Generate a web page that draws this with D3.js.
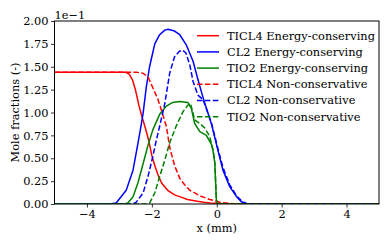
<!DOCTYPE html>
<html><head><meta charset="utf-8">
<script src="https://cdn.jsdelivr.net/npm/d3@7"></script>
<style>body{margin:0;background:#fff}svg{display:block}svg text{font-family:'DejaVu Serif';}</style>
</head><body><svg id="c" width="392" height="245" font-family="DejaVu Serif"></svg>
<script>
// data (mole fractions in units of 1e-1)
const ticl4EC = [[-5,1.44],[-3,1.44],[-2.8,1.44],[-2.7,1.42],[-2.6,1.36],[-2.5,1.24],[-2.4,1.08],[-2.3,0.95],[-2.2,0.83],[-2.1,0.70],[-2.0,0.53],[-1.9,0.41],[-1.8,0.31],[-1.7,0.23],[-1.5,0.145],[-1.3,0.10],[-1.1,0.075],[-0.9,0.05],[-0.6,0.03],[-0.4,0.02],[-0.2,0.012],[0,0.007],[0.2,0.003],[0.5,0],[5,0]];
const cl2EC = [[-5,0],[-3.3,0],[-3.1,0.01],[-2.99,0.06],[-2.79,0.15],[-2.58,0.37],[-2.43,0.66],[-2.32,0.88],[-2.27,0.99],[-2.17,1.28],[-2.07,1.50],[-1.91,1.75],[-1.76,1.85],[-1.6,1.90],[-1.5,1.91],[-1.3,1.89],[-1.14,1.85],[-0.94,1.74],[-0.73,1.56],[-0.58,1.36],[-0.42,1.16],[-0.16,0.87],[0.04,0.58],[0.19,0.37],[0.40,0.19],[0.61,0.08],[0.76,0.025],[0.9,0],[5,0]];
const tio2EC = [[-5,0],[-2.84,0],[-2.74,0.01],[-2.58,0.08],[-2.43,0.23],[-2.27,0.44],[-2.12,0.64],[-1.97,0.81],[-1.76,0.98],[-1.55,1.07],[-1.36,1.11],[-1.14,1.12],[-0.89,1.11],[-0.78,1.04],[-0.68,0.88],[-0.52,0.79],[-0.32,0.75],[-0.16,0.65],[-0.11,0.57],[-0.06,0.45],[-0.01,0.02],[0.02,0],[5,0]];
const ticl4NC = [[-5,1.44],[-2.48,1.44],[-2.28,1.43],[-2.12,1.39],[-1.97,1.27],[-1.82,1.15],[-1.70,1.02],[-1.55,0.845],[-1.45,0.62],[-1.30,0.42],[-1.14,0.28],[-0.99,0.21],[-0.83,0.15],[-0.52,0.09],[-0.22,0.05],[0.09,0.02],[0.40,0.005],[0.6,0],[5,0]];
const cl2NC = [[-5,0],[-2.59,0],[-2.48,0.02],[-2.27,0.12],[-2.12,0.30],[-1.97,0.52],[-1.86,0.70],[-1.76,0.85],[-1.60,1.10],[-1.45,1.43],[-1.30,1.61],[-1.15,1.67],[-1.05,1.68],[-0.95,1.65],[-0.83,1.52],[-0.73,1.34],[-0.58,1.19],[-0.42,1.14],[-0.16,0.88],[0.04,0.60],[0.19,0.40],[0.40,0.21],[0.61,0.09],[0.76,0.035],[0.95,0],[5,0]];
const tio2NC = [[-5,0],[-2.16,0],[-2.07,0.01],[-1.91,0.12],[-1.76,0.30],[-1.60,0.48],[-1.45,0.67],[-1.24,0.86],[-1.04,1.01],[-0.89,1.08],[-0.81,1.10],[-0.73,0.99],[-0.68,0.92],[-0.52,0.88],[-0.37,0.83],[-0.22,0.74],[-0.11,0.59],[-0.06,0.45],[-0.01,0.05],[0.03,0],[5,0]];
const xTicks = [-4,-2,0,2,4];
const yTicks = [0,0.25,0.5,0.75,1.0,1.25,1.5,1.75,2.0];
const series = [
  {name:"TICL4 Energy-conserving", data:ticl4EC, color:"#ff0000", dash:null},
  {name:"CL2 Energy-conserving", data:cl2EC, color:"#0000ff", dash:null},
  {name:"TIO2 Energy-conserving", data:tio2EC, color:"#008000", dash:null},
  {name:"TICL4 Non-conservative", data:ticl4NC, color:"#ff0000", dash:"5.5,2.4"},
  {name:"CL2 Non-conservative", data:cl2NC, color:"#0000ff", dash:"5.5,2.4"},
  {name:"TIO2 Non-conservative", data:tio2NC, color:"#008000", dash:"5.5,2.4"}
];

const svg = d3.select("#c");
const L=54.5, R=379, T=21, B=204;
const FF = "DejaVu Serif", FS = 11.4;
const x = d3.scaleLinear().domain([-5,5]).range([L,R]);
const y = d3.scaleLinear().domain([0,2]).range([B,T]);
const fmtX = d => (d<0?"\u2212":"")+Math.abs(d);

svg.append("clipPath").attr("id","cp").append("rect").attr("x",L).attr("y",T).attr("width",R-L).attr("height",B-T);
const line = d3.line().x(d=>x(d[0])).y(d=>y(d[1]));
const g = svg.append("g").attr("clip-path","url(#cp)");
series.forEach(s=>{
  g.append("path").attr("d",line(s.data)).attr("fill","none").attr("stroke",s.color)
   .attr("stroke-width",1.5).attr("stroke-dasharray",s.dash).attr("stroke-linejoin","round");
});

const xa = svg.append("g").attr("transform",`translate(0,${B})`).call(d3.axisBottom(x).tickValues(xTicks).tickFormat(fmtX).tickSize(3.5).tickPadding(2.5));
const ya = svg.append("g").attr("transform",`translate(${L},0)`).call(d3.axisLeft(y).tickValues(yTicks).tickFormat(d3.format(".2f")).tickSize(3.5).tickPadding(2.5));
[xa,ya].forEach(a=>{a.attr("font-family",FF).attr("font-size",FS);a.select(".domain").remove();a.selectAll("text").style("font-family",FF).style("font-size",FS+"px").attr("fill","#000");a.selectAll("line").attr("stroke","#000").attr("stroke-width",0.8);});

svg.append("rect").attr("x",L).attr("y",T).attr("width",R-L).attr("height",B-T).attr("fill","none").attr("stroke","#000").attr("stroke-width",1);

const txt = (sel)=>sel.style("font-family",FF).style("font-size",FS+"px").attr("fill","#000");
txt(svg.append("text")).attr("x",(L+R)/2).attr("y",231.5).attr("text-anchor","middle").text("x (mm)");
txt(svg.append("text")).attr("transform",`translate(19,${(T+B)/2}) rotate(-90)`).attr("text-anchor","middle").text("Mole fractions (-)");
txt(svg.append("text")).attr("x",L).attr("y",19).text("1e\u22121");

const lg = svg.append("g");
series.forEach((s,i)=>{
  const yy = 35.7 + i*16.2;
  lg.append("line").attr("x1",197).attr("x2",219).attr("y1",yy).attr("y2",yy).attr("stroke",s.color).attr("stroke-width",1.5).attr("stroke-dasharray",s.dash);
  txt(lg.append("text")).attr("x",227).attr("y",yy).attr("dy","0.35em").text(s.name);
});
</script></body></html>
